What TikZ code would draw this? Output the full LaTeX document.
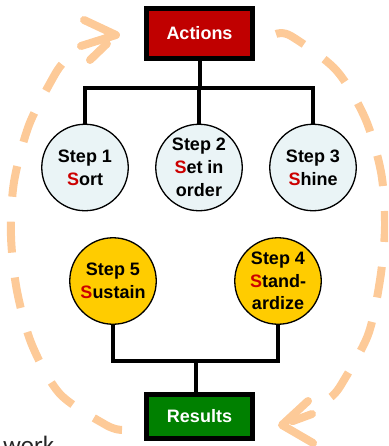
\documentclass[tikz,border=0pt]{standalone}
\usepackage{fontspec}
\setmainfont{Liberation Sans}
\newfontfamily\workfont{Carlito}
\usetikzlibrary{calc}

\definecolor{actred}{HTML}{C00000}
\definecolor{resgreen}{HTML}{008000}
\definecolor{stepblue}{HTML}{EAF4F6}
\definecolor{stepgold}{HTML}{FFCC00}
\definecolor{sred}{HTML}{CC0000}
\definecolor{peach}{HTML}{FDCA98}

\begin{document}
\begin{tikzpicture}[x=1pt,y=-1pt,
  headbox/.style={draw=black, line width=5pt, minimum width=106pt,
    inner sep=0pt, text=white, font=\bfseries\fontsize{18}{22}\selectfont},
  stepcircle/.style={circle, draw=black, line width=1.3pt, minimum size=86.5pt,
    inner sep=0pt, align=center, font=\bfseries\fontsize{18}{22.7}\selectfont},
  link/.style={line width=4pt},
  loopdash/.style={draw=peach, line width=8pt, dash pattern=on 31pt off 25pt},
  loophead/.style={draw=peach, line width=8pt, line cap=round, line join=round}]

\useasboundingbox (0,0) rectangle (388,446);
\clip (0,0) rectangle (388,446);

% dashed improvement cycle around the chart (y axis points down)
\draw[loopdash] plot[smooth] coordinates {(122,430) (106,425) (60,394) (32,345)
  (17,291) (11,236) (14,182) (29,125) (54,76) (63,63)};
\draw[loopdash] plot[smooth] coordinates {(276,34) (291,36) (336,70) (365,118)
  (381,172) (385,226) (380,280) (368,335) (341,385) (331,397)};

% open arrow heads at the ends of the cycle
\coordinate (tipA) at (116,35);
\coordinate (tipB) at (282,425);
\draw[loophead] (84,20) -- (tipA) -- (81,46);
\draw[loophead] (90,60) -- ($(tipA)!0.35!(90,60)$);
\draw[loophead] (308,401) -- (tipB) -- (313,443);
\draw[loophead] (312,414) -- ($(tipB)!0.35!(312,414)$);

% head and tail boxes
\node[headbox, fill=actred, minimum height=50pt] (actions) at (199.5,33.5) {Actions};
\node[headbox, fill=resgreen, minimum height=44pt] (results) at (199.5,416.5) {Results};

% the five steps
\node[stepcircle, fill=stepblue] (step1) at (85,167.5) {Step 1\\\textcolor{sred}{S}ort};
\node[stepcircle, fill=stepblue] (step2) at (199,167.5) {Step 2\\\textcolor{sred}{S}et in\\order};
\node[stepcircle, fill=stepblue] (step3) at (313,167.5) {Step 3\\\textcolor{sred}{S}hine};
\node[stepcircle, fill=stepgold] (step5) at (113,281) {Step 5\\\textcolor{sred}{S}ustain};
\node[stepcircle, fill=stepgold] (step4) at (278,281) {Step 4\\\textcolor{sred}{S}tand-\\ardize};

% tree connectors
\coordinate (ht) at (0,88.5);
\coordinate (hb) at (0,361);
\draw[link] (step1.north) -- (step1.north |- ht) -- (step3.north |- ht) -- (step3.north);
\draw[link] (actions.south) -- (actions.south |- ht);
\draw[link] (step2.north) -- (step2.north |- ht);
\draw[link] (step5.south) -- (step5.south |- hb) -- (step4.south |- hb) -- (step4.south);
\coordinate (mb) at ($(step5.south |- hb)!0.5!(step4.south |- hb)$);
\draw[link] (mb) -- (mb |- results.north);

% stray caption text at the lower edge
\node[anchor=base west, inner sep=0pt, text=black!85, font=\workfont\fontsize{25}{30}\selectfont] (work) at (3,453) {work};
\end{tikzpicture}
\end{document}
